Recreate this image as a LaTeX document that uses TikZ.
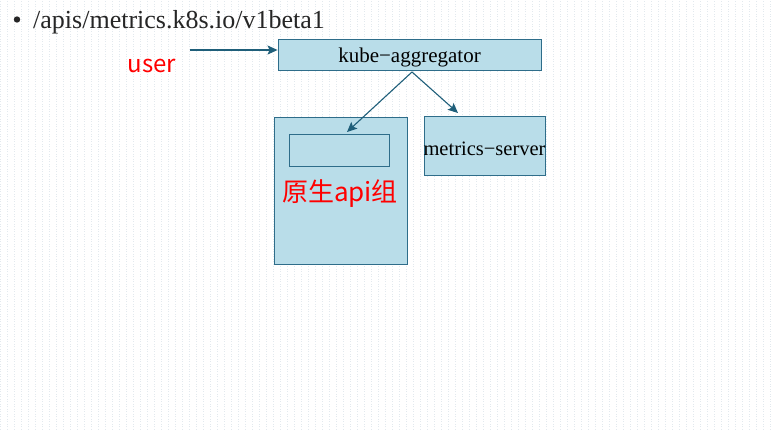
\documentclass[tikz,border=0pt]{standalone}
\usepackage{fontspec}
\setmainfont{Liberation Serif}
\newfontfamily\cjk{Noto Sans CJK SC}
\usetikzlibrary{arrows.meta}
\definecolor{boxfill}{HTML}{B9DDE9}
\definecolor{boxline}{HTML}{2E6D8A}
\definecolor{arrowc}{HTML}{1F5F7A}
\definecolor{gridc}{HTML}{E2E9EE}
\tikzset{
  box/.style={draw=boxline, fill=boxfill, line width=0.9pt, inner sep=0pt},
  conn/.style={draw=arrowc, line width=1.1pt, -{Stealth[length=10pt,width=9pt,inset=2pt]}},
  redlabel/.style={text=red, font=\cjk, inner sep=0pt}
}
\begin{document}
\begin{tikzpicture}[x=1pt,y=-1pt]
\useasboundingbox (0,0) rectangle (775,429);
\fill[white] (0,0) rectangle (775,429);
\draw[gridc, line width=0.5pt, dotted] (0,0) grid[step=7] (775,429);
% title
\fill[black!85] (17,19.5) circle[radius=3.2];
\node[anchor=base west, inner sep=0pt, font=\fontsize{26}{26}\selectfont, text=black!85] (title) at (33,28) {/apis/metrics.k8s.io/v1beta1};
% boxes
\node[box, minimum width=263pt, minimum height=31pt] (agg) at (409.5,54.5) {};
\node[inner sep=0pt, font=\fontsize{21}{21}\selectfont] (aggtext) at (409.5,57) {kube\textminus aggregator};
\node[box, minimum width=133pt, minimum height=147pt] (native) at (340.5,190.5) {};
\node[box, minimum width=100pt, minimum height=32pt] (inner) at (339,150) {};
\node[box, minimum width=121pt, minimum height=59pt] (ms) at (484.5,145.5) {};
\node[inner sep=0pt, font=\fontsize{20.5}{21}\selectfont] (mstext) at (484.5,149) {metrics\textminus server};
% labels
\node[redlabel, font=\cjk\fontsize{24}{24}\selectfont] (user) at (152,66) {user};
\node[redlabel, font=\cjk\fontsize{26}{26}\selectfont] (native label) at (340,194) {原生api组};
% connectors
\coordinate (userstart) at (190,50);
\draw[conn] (userstart) -- (agg.west |- userstart);
\coordinate (split) at (412,72);
\draw[conn] (split) -- (347,132);
\draw[conn] (split) -- (458,113);
\end{tikzpicture}
\end{document}
